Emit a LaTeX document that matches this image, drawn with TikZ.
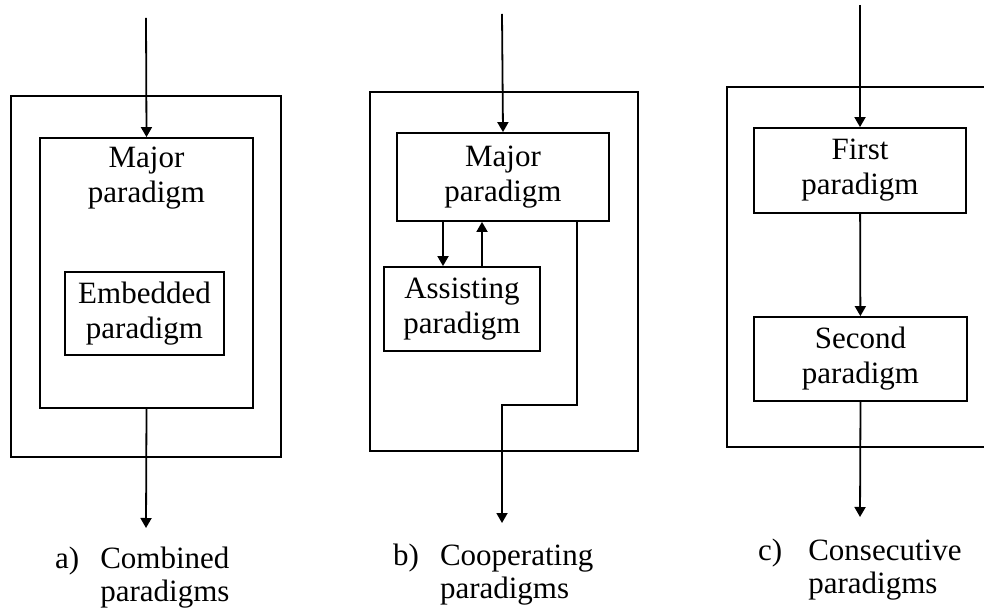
\documentclass[tikz,border=0pt]{standalone}
\usepackage{fontspec}
\setmainfont{Liberation Serif}
\usetikzlibrary{arrows.meta}

\begin{document}
\begin{tikzpicture}[x=1pt, y=-1pt,
    box/.style={rectangle, draw, line width=1.8pt, inner sep=0pt, align=center, font=\fontsize{31}{35}\selectfont},
    frame/.style={rectangle, draw, line width=1.8pt, inner sep=0pt},
    txt/.style={align=center, inner sep=0pt, font=\fontsize{31}{35}\selectfont},
    arrow/.style={-{Triangle[width=11pt,length=10pt]}, line width=1.8pt},
    caption/.style={anchor=base west, inner sep=0pt, font=\fontsize{31}{33}\selectfont}
]
    \useasboundingbox (0,0) rectangle (984,609);

    % a) Combined
    \node[frame, minimum width=270pt, minimum height=361pt] (outerA) at (146,276.5) {};
    \node[frame, minimum width=213pt, minimum height=270pt] (majorA) at (146.5,273) {};
    \node[txt] (majorAtext) at (146.5,178) {Major\\paradigm};
    \node[box, minimum width=159pt, minimum height=83pt] (embA) at (144.5,313.5) {Embedded\\paradigm};
    \coordinate (inA) at (146,18);
    \coordinate (outA) at (146,528);
    \node[caption] (capA) at (55,568) {\begin{tabular}[t]{@{}l@{\hspace{21pt}}l@{}}a) & Combined\\ & paradigms\end{tabular}};

    % b) Cooperating
    \node[frame, minimum width=268pt, minimum height=359pt] (outerB) at (504,271.5) {};
    \node[box, minimum width=212pt, minimum height=88pt] (majorB) at (503,177) {Major\\paradigm};
    \node[box, minimum width=156pt, minimum height=84pt] (assistB) at (462,309) {Assisting\\paradigm};
    \coordinate (inB) at (502,14);
    \coordinate (dnB) at (443,0);
    \coordinate (upB) at (482,0);
    \coordinate (rtB) at (577,0);
    \coordinate (stepB) at (502,405);
    \coordinate (outB) at (502,523);
    \node[caption] (capB) at (393,565) {\begin{tabular}[t]{@{}l@{\hspace{21pt}}l@{}}b) & Cooperating\\ & paradigms\end{tabular}};

    % c) Consecutive
    \node[frame, minimum width=268pt, minimum height=360pt] (outerC) at (861,267) {};
    \node[box, minimum width=212pt, minimum height=85pt] (firstC) at (860,170.5) {First\\paradigm};
    \node[box, minimum width=213pt, minimum height=84pt] (secondC) at (860.5,359) {Second\\paradigm};
    \coordinate (inC) at (860,5);
    \coordinate (outC) at (860,517);
    \node[caption] (capC) at (758,560) {\begin{tabular}[t]{@{}l@{\hspace{26pt}}l@{}}c) & Consecutive\\ & paradigms\end{tabular}};

    % Arrows
    \draw[arrow] (inA) -- (majorA.north);
    \draw[arrow] (majorA.south) -- (outA);
    \draw[arrow] (inB) -- (majorB.north);
    \draw[arrow] (majorB.south -| dnB) -- (assistB.north -| dnB);
    \draw[arrow] (assistB.north -| upB) -- (majorB.south -| upB);
    \draw[arrow] (majorB.south -| rtB) |- (stepB) -- (outB);
    \draw[arrow] (inC) -- (firstC.north);
    \draw[arrow] (firstC) -- (secondC);
    \draw[arrow] (secondC.south) -- (outC);
\end{tikzpicture}
\end{document}
